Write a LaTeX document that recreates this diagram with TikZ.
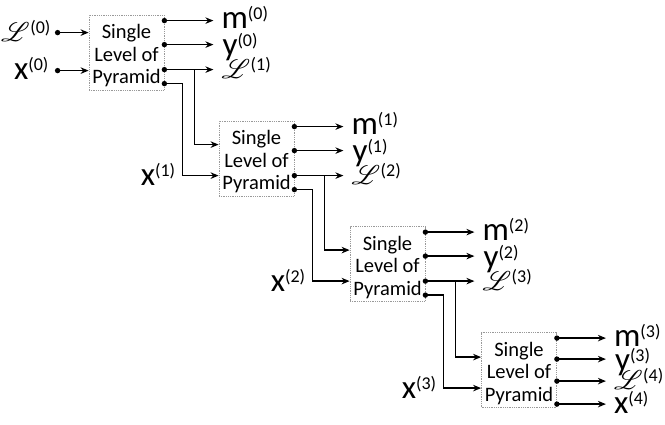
\documentclass[tikz,border=0pt]{standalone}
\usepackage{fontspec}
\setmainfont{Carlito}
\usepackage{mathrsfs}
\usepackage{graphicx}
\usetikzlibrary{arrows.meta,calc}
\newcommand{\plab}[2]{{\fontsize{33}{33}\selectfont #1}\raisebox{9pt}{\fontsize{18}{18}\selectfont(#2)}}
\newcommand{\plL}[1]{\scalebox{1.08}{\fontsize{24.88}{25}\selectfont$\mathscr{L}$}\hspace{0.5pt}\raisebox{8pt}{\fontsize{18}{18}\selectfont(#1)}}
\tikzset{
 pbox/.style={draw=gray!80, densely dotted, line width=0.8pt, minimum width=75pt, minimum height=75pt, inner sep=0pt},
 boxtext/.style={inner sep=0pt, align=center, font=\fontsize{20.5}{22.5}\selectfont},
 conn/.style={line width=1.5pt, -{Stealth[length=8pt,width=6.5pt]}},
 lab/.style={inner sep=0pt}
}
\begin{document}
\begin{tikzpicture}[x=1pt,y=-1pt]
\useasboundingbox (0,0) rectangle (665,424);
% boxes
\node[pbox] (b0) at (126.5,52.5) {};
\node[pbox] (b1) at (256.5,158.5) {};
\node[pbox] (b2) at (387.5,264) {};
\node[pbox] (b3) at (519,370) {};
\foreach \i in {0,1,2,3}
  \node[boxtext] (t\i) at ($(b\i)+(0,3.5)$) {Single\\Level of\\Pyramid};
% output and input points, boxes 0-2
\foreach \i in {0,1,2}{
  \coordinate (om\i) at ($(b\i.north east)+(0,6)$);
  \coordinate (oy\i) at ($(b\i.north east)+(0,30)$);
  \coordinate (oL\i) at ($(b\i.north east)+(0,55)$);
  \coordinate (ox\i) at ($(b\i.north east)+(0,69)$);
  \coordinate (Lb\i) at ($(oL\i)+(30,0)$);
  \coordinate (xb\i) at ($(ox\i)+(18,0)$);
}
\coordinate (om3) at ($(b3.north east)+(0,6)$);
\coordinate (oy3) at ($(b3.north east)+(0,27)$);
\coordinate (oL3) at ($(b3.north east)+(0,49)$);
\coordinate (ox3) at ($(b3.north east)+(0,72)$);
\coordinate (iL0) at ($(b0.north west)+(0,18)$);
\coordinate (ix0) at ($(b0.north west)+(0,56)$);
\coordinate (iL1) at ($(b1.north west)+(0,24)$);
\coordinate (ix1) at ($(b1.north west)+(0,55)$);
\coordinate (iL2) at ($(b2.north west)+(0,24)$);
\coordinate (ix2) at ($(b2.north west)+(0,55)$);
\coordinate (iL3) at ($(b3.north west)+(0,25)$);
\coordinate (ix3) at ($(b3.north west)+(0,56)$);
\coordinate (sL0) at ($(iL0)+(-31,0)$);
\coordinate (sx0) at ($(ix0)+(-31,0)$);
% output arrows with labels
\foreach \i/\n in {0/1,1/2,2/3}{
  \draw[conn] (om\i) -- ($(om\i)+(49,0)$);
  \draw[conn] (oy\i) -- ($(oy\i)+(49,0)$);
  \draw[conn] (oL\i) -- ($(oL\i)+(49,0)$);
  \node[lab, anchor=base west] (lm\i) at ($(om\i)+(57,8)$) {\plab{m}{\i}};
  \node[lab, anchor=base west] (ly\i) at ($(oy\i)+(58,11)$) {\plab{y}{\i}};
  \node[lab, anchor=base west] (lL\i) at ($(oL\i)+(57,9)$) {\plL{\n}};
  \draw[conn] (Lb\i) |- (iL\n);
  \draw[conn] (ox\i) -- (xb\i) |- (ix\n);
  \node[lab, anchor=base east] (lx\n) at ($(xb\i |- ix\n)+(-7,10)$) {\plab{x}{\n}};
}
\draw[conn] (om3) -- ($(om3)+(49,0)$);
\draw[conn] (oy3) -- ($(oy3)+(49,0)$);
\draw[conn] (oL3) -- ($(oL3)+(49,0)$);
\draw[conn] (ox3) -- ($(ox3)+(49,0)$);
\node[lab, anchor=base west] (lm3) at ($(om3)+(57,8)$) {\plab{m}{3}};
\node[lab, anchor=base west] (ly3) at ($(oy3)+(58,11)$) {\plab{y}{3}};
\node[lab, anchor=base west] (lL3) at ($(oL3)+(57,8)$) {\plL{4}};
\node[lab, anchor=base west] (lx4) at ($(ox3)+(57,9)$) {\plab{x}{4}};
% inputs of box 0
\draw[conn] (sL0) -- (iL0);
\draw[conn] (sx0) -- (ix0);
\node[lab, anchor=base east] (lL0) at ($(sL0)+(-7,9)$) {\plL{0}};
\node[lab, anchor=base east] (lx0) at ($(sx0)+(-9,9)$) {\plab{x}{0}};
% dots
\foreach \p in {sL0,sx0,om0,oy0,oL0,ox0,om1,oy1,oL1,ox1,om2,oy2,oL2,ox2,om3,oy3,oL3,ox3}
  \fill (\p) circle[radius=2.7pt];
\end{tikzpicture}
\end{document}
